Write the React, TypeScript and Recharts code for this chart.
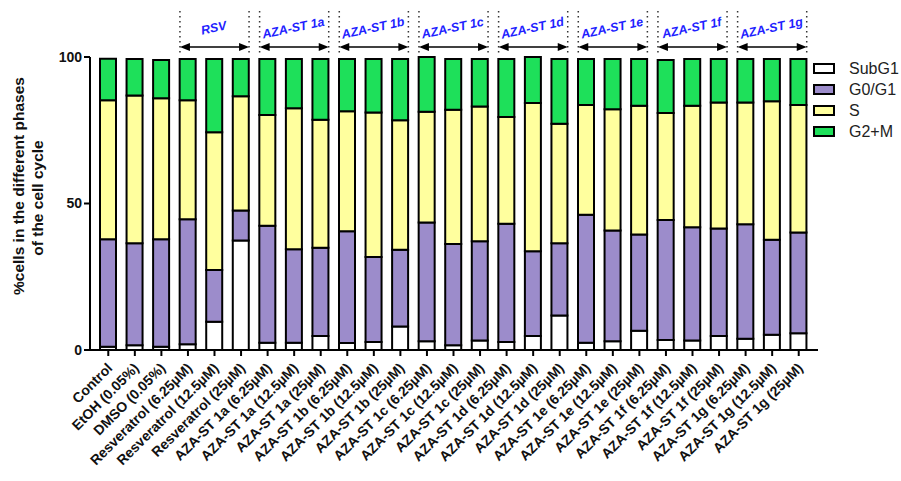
import { Bar, BarChart, Legend, ReferenceArea, XAxis, YAxis } from "recharts"

const categories = [
  "Control", "EtOH (0.05%)", "DMSO (0.05%)",
  "Resveratrol (6.25µM)", "Resveratrol (12.5µM)", "Resveratrol (25µM)",
  "AZA-ST 1a (6.25µM)", "AZA-ST 1a (12.5µM)", "AZA-ST 1a (25µM)",
  "AZA-ST 1b (6.25µM)", "AZA-ST 1b (12.5µM)", "AZA-ST 1b (25µM)",
  "AZA-ST 1c (6.25µM)", "AZA-ST 1c (12.5µM)", "AZA-ST 1c (25µM)",
  "AZA-ST 1d (6.25µM)", "AZA-ST 1d (12.5µM)", "AZA-ST 1d (25µM)",
  "AZA-ST 1e (6.25µM)", "AZA-ST 1e (12.5µM)", "AZA-ST 1e (25µM)",
  "AZA-ST 1f (6.25µM)", "AZA-ST 1f (12.5µM)", "AZA-ST 1f (25µM)",
  "AZA-ST 1g (6.25µM)", "AZA-ST 1g (12.5µM)", "AZA-ST 1g (25µM)",
]

const subG1 = [1.1, 1.6, 1.1, 2.0, 9.6, 37.4, 2.5, 2.5, 4.8, 2.4, 2.7, 8.0, 3.0, 1.6, 3.2, 2.7, 4.8, 11.8, 2.5, 3.0, 6.6, 3.4, 3.2, 4.8, 3.8, 5.2, 5.7]
const g0g1 = [36.7, 34.8, 36.7, 42.6, 17.7, 10.2, 39.9, 31.9, 30.1, 38.1, 29.0, 26.2, 40.5, 34.6, 33.9, 40.4, 28.9, 24.6, 43.7, 37.8, 32.8, 41.0, 38.7, 36.7, 39.1, 32.4, 34.4]
const sPhase = [47.4, 50.5, 48.1, 40.6, 47.0, 39.0, 37.8, 48.1, 43.7, 41.0, 49.4, 44.2, 37.8, 45.8, 46.0, 36.4, 50.6, 40.8, 37.4, 41.4, 44.0, 36.5, 41.5, 43.0, 41.6, 47.3, 43.5]
const g2m = [14.2, 12.4, 13.1, 14.1, 25.0, 12.7, 19.1, 16.8, 20.7, 17.8, 18.2, 20.9, 18.7, 17.3, 16.2, 19.8, 15.7, 22.1, 15.7, 17.1, 15.9, 18.1, 15.9, 14.8, 14.8, 14.4, 15.7]

const seriesNames = ["SubG1", "G0/G1", "S", "G2+M"]
const seriesColors = ["#ffffff", "#9c8ccb", "#ffff9e", "#1ee05a"]

const groupNames = ["RSV", "AZA-ST 1a", "AZA-ST 1b", "AZA-ST 1c", "AZA-ST 1d", "AZA-ST 1e", "AZA-ST 1f", "AZA-ST 1g"]
const groupFirst = [3, 6, 9, 12, 15, 18, 21, 24]
const groupLast = [5, 8, 11, 14, 17, 20, 23, 26]

const yTicks = [0, 50, 100]

const data = categories.map((name, i) => ({
  name,
  SubG1: subG1[i],
  "G0/G1": g0g1[i],
  S: sPhase[i],
  "G2+M": g2m[i],
}))

const FONT = "Arial, 'Liberation Sans', sans-serif"
const BAR_SIZE = 16

const SlantTick = ({ x, y, payload }: any) => (
  <text
    x={x + 5}
    y={y + 11}
    transform={`rotate(-45 ${x + 5} ${y + 11})`}
    textAnchor="end"
    fontFamily={FONT}
    fontSize={14}
    fontWeight="bold"
    fill="#111"
  >
    {payload.value}
  </text>
)

const GroupMark = ({ x, y, width, n, name }: any) => {
  const band = width / n
  const inset = (band - BAR_SIZE) / 2
  const left = x + inset
  const right = x + width - inset
  const ay = y - 10
  const cx = (left + right) / 2
  return (
    <g>
      <line x1={left} x2={left} y1={y - 46} y2={y - 4} stroke="#333" strokeWidth={1.5} strokeDasharray="1.5 3.5" />
      <line x1={right} x2={right} y1={y - 46} y2={y - 4} stroke="#333" strokeWidth={1.5} strokeDasharray="1.5 3.5" />
      <line x1={left + 6} x2={right - 6} y1={ay} y2={ay} stroke="#000" strokeWidth={1.5} />
      <polygon points={`${left},${ay} ${left + 10},${ay - 4} ${left + 10},${ay + 4}`} fill="#000" />
      <polygon points={`${right},${ay} ${right - 10},${ay - 4} ${right - 10},${ay + 4}`} fill="#000" />
      <text
        x={cx}
        y={y - 25}
        transform={`rotate(-12 ${cx} ${y - 25})`}
        textAnchor="middle"
        fontFamily={FONT}
        fontSize={12.5}
        fontWeight="bold"
        fontStyle="italic"
        fill="#1f1fff"
      >
        {name}
      </text>
    </g>
  )
}

const LegendBox = () => (
  <div style={{ fontFamily: FONT, fontSize: 16, color: "#222" }}>
    {seriesNames.map((s, i) => (
      <div key={s} style={{ display: "flex", alignItems: "center", height: 21 }}>
        <span
          style={{
            display: "inline-block",
            width: 18,
            height: 7,
            border: "2px solid #000",
            background: seriesColors[i],
            marginRight: 14,
          }}
        />
        {s}
      </div>
    ))}
  </div>
)

export default function App() {
  return (
    <div style={{ position: "absolute", left: 0, top: 0, width: 901, height: 481, background: "#fff" }}>
      <BarChart
        width={901}
        height={481}
        data={data}
        margin={{ top: 57, right: 83, left: 0, bottom: 0 }}
        barSize={BAR_SIZE}
      >
        <XAxis
          dataKey="name"
          interval={0}
          height={131}
          padding={{ left: 5, right: 6 }}
          stroke="#000"
          axisLine={{ stroke: "#000", strokeWidth: 2 }}
          tickLine={{ stroke: "#000", strokeWidth: 2 }}
          tickSize={6}
          tick={<SlantTick />}
        />
        <YAxis
          width={90}
          domain={[0, 100]}
          ticks={yTicks}
          stroke="#000"
          axisLine={{ stroke: "#000", strokeWidth: 2 }}
          tickLine={{ stroke: "#000", strokeWidth: 2 }}
          tickSize={6}
          tick={{ fill: "#111", fontFamily: FONT, fontSize: 14, fontWeight: "bold" }}
          label={{
            content: () => (
              <text
                transform="translate(24 190) rotate(-90)"
                textAnchor="middle"
                fontFamily={FONT}
                fontSize={15.5}
                fontWeight="bold"
                fill="#111"
              >
                <tspan x={4} dy={0}>%cells in the different phases</tspan>
                <tspan x={-8} dy={19}>of the cell cycle</tspan>
              </text>
            ),
          }}
        />
        <Legend
          layout="vertical"
          align="center"
          verticalAlign="middle"
          wrapperStyle={{ left: 813, top: 58, width: 88 }}
          content={() => <LegendBox />}
        />
        {groupNames.map((g, i) => (
          <ReferenceArea
            key={g}
            x1={categories[groupFirst[i]]}
            x2={categories[groupLast[i]]}
            y1={0}
            y2={100}
            ifOverflow="visible"
            shape={(p: any) => <GroupMark {...p} n={groupLast[i] - groupFirst[i] + 1} name={g} />}
          />
        ))}
        {seriesNames.map((s, i) => (
          <Bar
            key={s}
            dataKey={s}
            stackId="a"
            fill={seriesColors[i]}
            stroke="#000"
            strokeWidth={2}
            isAnimationActive={false}
          />
        ))}
      </BarChart>
    </div>
  )
}
